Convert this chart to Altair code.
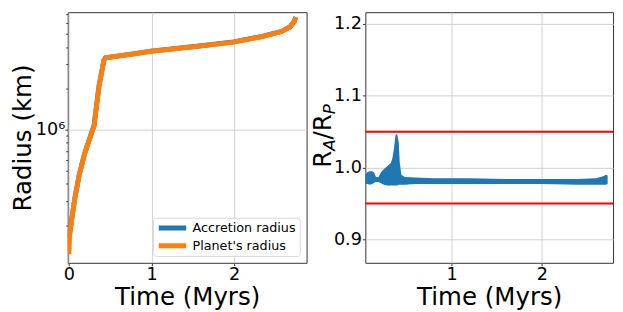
import altair as alt
import pandas as pd

FONT = "DejaVu Sans"

# ---- left panel: radius vs time ----
time_myr = [0.0, 0.008, 0.067, 0.126, 0.186, 0.225, 0.304, 0.363, 0.423, 0.442,
            0.758, 0.995, 1.549, 1.995, 2.339, 2.576, 2.675, 2.726, 2.746]
planet_radius_km = [1.23e5, 1.71e5, 3.05e5, 4.72e5, 6.56e5, 7.74e5, 1.07e6, 2.07e6,
                    3.21e6, 3.34e6, 3.55e6, 3.73e6, 4.05e6, 4.35e6, 4.77e6, 5.21e6,
                    5.62e6, 6.15e6, 6.63e6]
accretion_radius_km = [1.62e5, 1.72e5, 3.05e5, 4.72e5, 6.56e5, 7.74e5, 1.07e6, 2.07e6,
                       3.21e6, 3.34e6, 3.56e6, 3.74e6, 4.06e6, 4.37e6, 4.79e6, 5.22e6,
                       5.63e6, 6.15e6, 6.63e6]
series_names = ["Accretion radius", "Planet's radius"]
series_colors = ["#1f77b4", "#ff7f0e"]
left_x_ticks = [0, 1, 2]
left_y_ticks = [2e5, 3e5, 4e5, 5e5, 6e5, 7e5, 8e5, 9e5, 1e6, 2e6, 3e6, 4e6, 5e6, 6e6, 7e6]

# ---- right panel: ratio ----
ratio_time = [0.043, 0.068, 0.09, 0.12, 0.14, 0.16, 0.19, 0.214, 0.25, 0.286, 0.323,
              0.341, 0.359, 0.377, 0.395, 0.413, 0.424, 0.442, 0.48, 0.6, 0.8, 1.2,
              1.6, 2.0, 2.4, 2.6, 2.68, 2.71, 2.73]
ratio_low = [0.977, 0.977, 0.976, 0.977, 0.979, 0.980, 0.980, 0.978, 0.976, 0.975, 0.975,
             0.975, 0.975, 0.975, 0.975, 0.976, 0.976, 0.976, 0.976, 0.977, 0.977, 0.977,
             0.977, 0.977, 0.976, 0.976, 0.976, 0.976, 0.977]
ratio_high = [0.990, 0.994, 0.995, 0.995, 0.993, 0.987, 0.987, 0.993, 0.998, 1.002, 1.006,
              1.012, 1.025, 1.045, 1.047, 1.036, 1.008, 0.990, 0.987, 0.986, 0.985, 0.985,
              0.984, 0.984, 0.984, 0.985, 0.988, 0.990, 0.989]
limit_values = [0.95, 1.05]
right_x_ticks = [1, 2]
right_y_ticks = [0.9, 1.0, 1.1, 1.2]

df_acc = pd.DataFrame({"t": time_myr, "r": accretion_radius_km, "series": series_names[0]})
df_pl = pd.DataFrame({"t": time_myr, "r": planet_radius_km, "series": series_names[1]})
df_ratio = pd.DataFrame({"t": ratio_time, "lo": ratio_low, "hi": ratio_high})
df_lim = pd.DataFrame({"v": limit_values})

W1, W2, H = 244, 253, 256

xl = alt.X("t:Q",
           scale=alt.Scale(domain=[-0.015, 2.876], nice=False, zero=False),
           axis=alt.Axis(values=left_x_ticks, title="Time (Myrs)", format="d",
                         labelPadding=0, titlePadding=2))
yl = alt.Y("r:Q",
           scale=alt.Scale(type="log", domain=[1.062e5, 7.2e6], nice=False),
           axis=alt.Axis(values=left_y_ticks, title="Radius (km)",
                         labelExpr="datum.value == 1000000 ? '10⁶' : ''",
                         gridOpacity={"condition": {"test": "datum.value == 1000000", "value": 1}, "value": 0},
                         tickSize={"condition": {"test": "datum.value == 1000000", "value": 3}, "value": 2},
                         labelPadding=0, titlePadding=0))
col = alt.Color("series:N",
                scale=alt.Scale(domain=series_names, range=series_colors),
                legend=alt.Legend(title=None, orient="bottom-right", offset=7,
                                  fillColor="white", strokeColor="#d8d8d8",
                                  cornerRadius=3, padding=3.5, labelFontSize=13,
                                  labelFont=FONT, symbolType="M-1,0H3",
                                  symbolStrokeWidth=5, symbolSize=196,
                                  clipHeight=14, rowPadding=4, labelOffset=18))

blue = alt.Chart(df_acc).mark_line(strokeWidth=5, clip=True).encode(x=xl, y=yl, color=col)
orange = alt.Chart(df_pl).mark_line(strokeWidth=5, clip=True).encode(x=xl, y=yl, color=col)
left = alt.layer(blue, orange).properties(width=W1, height=H)

xr = alt.X("t:Q",
           scale=alt.Scale(domain=[0.043, 2.79], nice=False, zero=False),
           axis=alt.Axis(values=right_x_ticks, title="Time (Myrs)", format="d",
                         labelPadding=0, titlePadding=2))
yr_scale = alt.Scale(domain=[0.8674, 1.2163], nice=False, zero=False)
band = alt.Chart(df_ratio).mark_area(color="#1f77b4", clip=True).encode(
    x=xr,
    y=alt.Y("lo:Q", scale=yr_scale,
            axis=alt.Axis(values=right_y_ticks, format=".1f", title=None,
                          tickSize=3, labelPadding=1)),
    y2="hi:Q")
limits = alt.Chart(df_lim).mark_rule(color="#ff0000", strokeWidth=2).encode(
    y=alt.Y("v:Q", scale=yr_scale))

def piece(txt, xpos, ypos, size, italic=False):
    return alt.Chart(pd.DataFrame({"s": [txt]})).mark_text(
        angle=270, align="left", baseline="alphabetic", font=FONT,
        fontSize=size, fontStyle="italic" if italic else "normal", color="black"
    ).encode(text="s:N", x=alt.value(xpos), y=alt.value(ypos))

title_parts = [
    piece("R", -35, 159, 25),
    piece("A", -31, 141.6, 17, True),
    piece("/R", -35, 130, 25),
    piece("P", -31, 104.2, 17, True),
]
right = alt.layer(band, limits, *title_parts).properties(width=W2, height=H)

chart = alt.hconcat(left, right, spacing=3).resolve_scale(
    color="independent"
).properties(
    padding={"left": 2, "top": 0, "right": 0, "bottom": 0}
).configure_view(
    stroke="#333", strokeWidth=1
).configure_axis(
    labelFont=FONT, titleFont=FONT, labelFontSize=18, titleFontSize=25,
    titleFontWeight="normal", labelColor="black", titleColor="black",
    tickColor="#333", domain=False, gridColor="#d0d0d0", gridWidth=1,
    tickSize=3, labelPadding=1, titlePadding=1
)

chart.save("out.html", embed_options={"renderer": "svg", "actions": False})
